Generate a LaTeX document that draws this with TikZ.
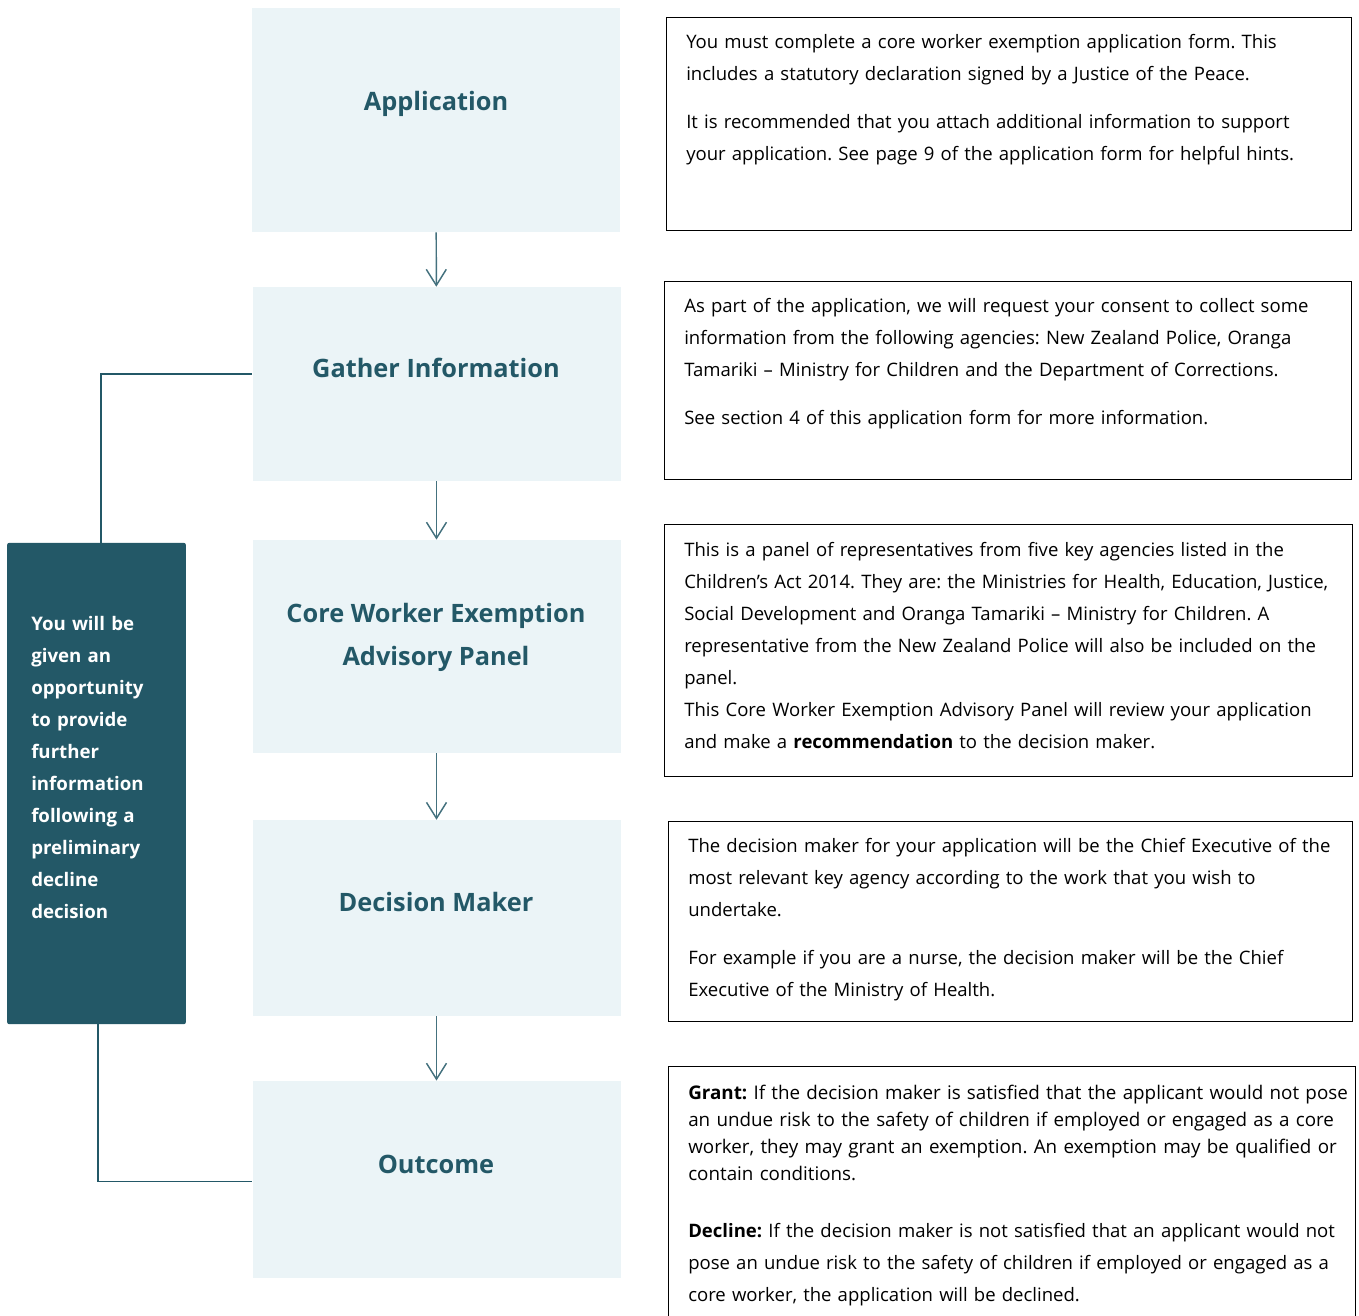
\documentclass[tikz,border=0pt]{standalone}
\usepackage{fontspec}
\setmainfont{Open Sans}
\usetikzlibrary{arrows.meta}
\tikzset{>={Straight Barb[width=15pt,length=12pt]}}
\definecolor{teal}{HTML}{235867}
\definecolor{lightteal}{HTML}{EBF4F7}
\newcommand{\BODY}{\fontsize{13.9}{24}\selectfont}
\frenchspacing
\tikzset{
  stage/.style={fill=lightteal, inner sep=0pt, minimum width=276pt},
  stagetitle/.style={text=teal, font=\fontsize{19}{32.25}\selectfont\bfseries, align=center},
  infobox/.style={draw=black, line width=0.7pt, inner sep=0pt},
  infotext/.style={anchor=base west, inner sep=0pt, text width=500pt, align=left, font=\BODY},
  flow/.style={->, draw=teal!85!white, line width=1.1pt},
  link/.style={draw=teal, line width=1.1pt}
}

\begin{document}
\begin{tikzpicture}[x=0.75pt,y=-0.75pt]

  \useasboundingbox (0,0) rectangle (1359,1315);

  %% stages
  \node[stage, minimum height=168pt] (app)     at (436,120)    {};
  \node[stage, minimum height=145.5pt] (gather) at (436.5,384) {};
  \node[stage, minimum height=160pt] (panel)   at (436.5,646.5) {};
  \node[stage, minimum height=147pt] (dm)      at (436.5,918)  {};
  \node[stage, minimum height=148pt] (outcome) at (436.5,1179.5) {};

  \node[stagetitle] (tapp)     at (436,104)   {Application};
  \node[stagetitle] (tgather)  at (436,368)   {Gather Information};
  \node[stagetitle] (tpanel)   at (436,637)   {Core Worker Exemption\\Advisory Panel};
  \node[stagetitle] (tdm)      at (436,902)   {Decision Maker};
  \node[stagetitle] (toutcome) at (436,1164)  {Outcome};

  \draw[flow] (app) -- (gather);
  \draw[flow] (gather) -- (panel);
  \draw[flow] (panel) -- (dm);
  \draw[flow] (dm) -- (outcome);

  %% side note
  \node[fill=teal, rounded corners=1.5pt, minimum width=134pt, minimum height=361pt,
    inner sep=0pt] (side) at (96.5,783.5) {};
  \node[anchor=base west, inner sep=0pt, text=white, text width=110pt, align=left,
    font=\fontsize{14}{24}\selectfont\bfseries] (tside) at (31,630)
    {You will be\\given an\\opportunity\\to provide\\further\\information\\following a\\preliminary\\decline\\decision};

  \draw[link] ([xshift=3.4pt]side.north) |- ([yshift=7.5pt]gather.west);
  \draw[link] ([xshift=1.1pt]side.south) |- ([yshift=-1.5pt]outcome.west);

  %% info boxes
  \node[infobox, minimum width=513.75pt, minimum height=159.75pt] (info1) at (1008.5,123.5) {};
  \node[infobox, minimum width=515.25pt, minimum height=148.5pt] (info2) at (1007.5,380) {};
  \node[infobox, minimum width=516pt, minimum height=189pt] (info3) at (1008,650) {};
  \node[infobox, minimum width=513pt, minimum height=150pt] (info4) at (1010,921) {};
  \node[infobox, minimum width=515.25pt, minimum height=197pt] (info5) at (1011.5,1198) {};

  \node[infotext] (tinfo1) at (686,48)
    {You must complete a core worker exemption application form. This\\
     includes a statutory declaration signed by a Justice of the Peace.\\[12pt]
     It is recommended that you attach additional information to support\\
     your application. See page 9 of the application form for helpful hints.};
  \node[infotext] (tinfo2) at (684,312)
    {As part of the application, we will request your consent to collect some\\
     information from the following agencies: New Zealand Police, Oranga\\
     Tamariki -- Ministry for Children and the Department of Corrections.\\[12pt]
     See section 4 of this application form for more information.};
  \node[infotext] (tinfo3) at (684,556)
    {This is a panel of representatives from five key agencies listed in the\\
     Children’s Act 2014. They are: the Ministries for Health, Education, Justice,\\
     Social Development and Oranga Tamariki -- Ministry for Children. A\\
     representative from the New Zealand Police will also be included on the\\
     panel.\\
     This Core Worker Exemption Advisory Panel will review your application\\
     and make a \textbf{recommendation} to the decision maker.};
  \node[infotext] (tinfo4) at (688,852)
    {The decision maker for your application will be the Chief Executive of the\\
     most relevant key agency according to the work that you wish to\\
     undertake.\\[12pt]
     For example if you are a nurse, the decision maker will be the Chief\\
     Executive of the Ministry of Health.};
  \node[infotext, font=\fontsize{14.1}{20.25}\selectfont] (tgrant) at (688,1099)
    {\textbf{Grant:} If the decision maker is satisfied that the applicant would not pose\\
     an undue risk to the safety of children if employed or engaged as a core\\
     worker, they may grant an exemption. An exemption may be qualified or\\
     contain conditions.};
  \node[infotext] (tdecline) at (688,1237)
    {\textbf{Decline:} If the decision maker is not satisfied that an applicant would not\\
     pose an undue risk to the safety of children if employed or engaged as a\\
     core worker, the application will be declined.};

\end{tikzpicture}
\end{document}
